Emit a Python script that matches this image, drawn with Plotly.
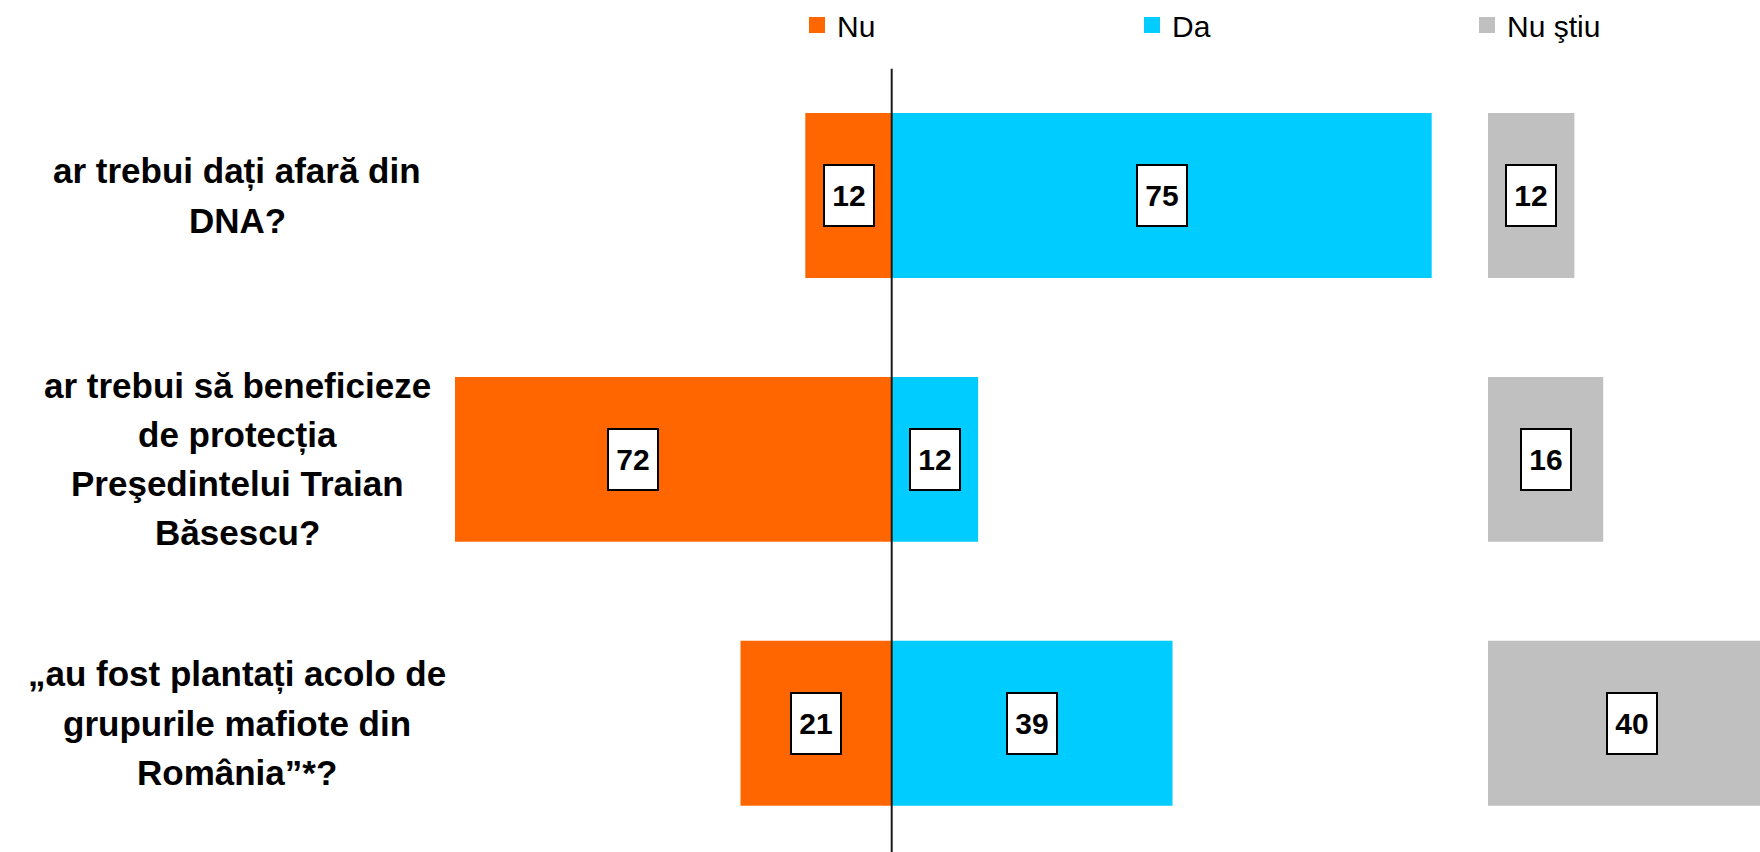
import plotly.graph_objects as go

# ---- data ----
categories = [
    "ar trebui dați afară din<br>DNA?",
    "ar trebui să beneficieze<br>de protecția<br>Preşedintelui Traian<br>Băsescu?",
    "„au fost plantați acolo de<br>grupurile mafiote din<br>România”*?",
]
nu = [12, 72, 21]
da = [75, 12, 39]
nu_stiu = [12, 16, 40]
series_names = ["Nu", "Da", "Nu ştiu"]
colors = ["#FF6600", "#00CCFF", "#C0C0C0"]

# ---- layout constants (pixels) ----
W, H = 1760, 852
PX_PER_UNIT = 7.2
ZERO_PX = 891.7
LEFT_PX = 455
SPLIT_PX = 1488
ROW_PX = 263.9
FIRST_ROW_CENTER_PX = 195.5
LABEL_CENTER_PX = 237
LINE_SPACING = 49
LEGEND_LEFT_PX = 797
LEGEND_UP_PX = 1
FONT = "Liberation Sans, Arial, sans-serif"

x1_range = [-(ZERO_PX - LEFT_PX) / PX_PER_UNIT, (SPLIT_PX - ZERO_PX) / PX_PER_UNIT]
x2_range = [0, (W - SPLIT_PX) / PX_PER_UNIT]
y_top = -FIRST_ROW_CENTER_PX / ROW_PX
y_bottom = y_top + H / ROW_PX

fig = go.Figure()
fig.add_trace(go.Bar(y=categories, x=[-v for v in nu], name=series_names[0], orientation="h",
                     marker=dict(color=colors[0], line=dict(width=0)), width=0.625,
                     xaxis="x", yaxis="y", hoverinfo="skip", showlegend=False))
fig.add_trace(go.Bar(y=categories, x=da, name=series_names[1], orientation="h",
                     marker=dict(color=colors[1], line=dict(width=0)), width=0.625,
                     xaxis="x", yaxis="y", hoverinfo="skip", showlegend=False))
fig.add_trace(go.Bar(y=categories, x=nu_stiu, name=series_names[2], orientation="h",
                     marker=dict(color=colors[2], line=dict(width=0)), width=0.625,
                     xaxis="x2", yaxis="y", hoverinfo="skip", showlegend=False))
# legend entries (square swatches)
for name, col in zip(series_names, colors):
    fig.add_trace(go.Scatter(x=[None], y=[None], mode="markers", name=name,
                             marker=dict(symbol="square", size=20, color=col),
                             xaxis="x", yaxis="y", hoverinfo="skip"))

annotations = []


def value_label(xref, xval, yval, text):
    return dict(xref=xref, yref="y", x=xval, y=yval, text=str(text), showarrow=False,
                font=dict(family=FONT, size=30, color="black", weight="bold"),
                bgcolor="white", bordercolor="black", borderwidth=2, borderpad=0,
                width=48, height=59, xanchor="center", yanchor="middle", align="center")


for c, v in zip(categories, nu):
    annotations.append(value_label("x", -v / 2, c, v))
for c, v in zip(categories, da):
    annotations.append(value_label("x", v / 2, c, v))
for c, v in zip(categories, nu_stiu):
    annotations.append(value_label("x2", v / 2, c, v))

# category labels (centered, one annotation per line for line spacing)
for c in categories:
    lines = c.split("<br>")
    n = len(lines)
    for i, line in enumerate(lines):
        annotations.append(dict(xref="paper", yref="y", x=LABEL_CENTER_PX / W, y=c,
                                text=line, showarrow=False, xanchor="center", yanchor="middle",
                                yshift=((n - 1) / 2 - i) * LINE_SPACING,
                                font=dict(family=FONT, size=35, color="black", weight="bold")))

fig.update_layout(
    width=W, height=H,
    margin=dict(l=0, r=0, t=0, b=0, autoexpand=False),
    paper_bgcolor="white", plot_bgcolor="white",
    barmode="relative",
    showlegend=True,
    legend=dict(orientation="h", x=LEGEND_LEFT_PX / W, y=1 + LEGEND_UP_PX / H,
                xanchor="left", yanchor="top",
                font=dict(family=FONT, size=30, color="black"),
                entrywidth=290, entrywidthmode="pixels",
                bgcolor="rgba(0,0,0,0)", traceorder="normal"),
    xaxis=dict(domain=[LEFT_PX / W, SPLIT_PX / W], range=x1_range, visible=False,
               showgrid=False, zeroline=False, fixedrange=True),
    xaxis2=dict(domain=[SPLIT_PX / W, 1], range=x2_range, visible=False, anchor="y",
                showgrid=False, zeroline=False, fixedrange=True),
    yaxis=dict(type="category", categoryarray=categories, categoryorder="array",
               range=[y_bottom, y_top], visible=False, showgrid=False, zeroline=False,
               fixedrange=True),
    shapes=[dict(type="line", xref="x", yref="y", x0=0, x1=0, y0=-0.48, y1=2.5,
                 line=dict(color="#1a1a1a", width=2), layer="above")],
    annotations=annotations,
    hovermode=False,
)

fig.write_html("out.html", config={"displayModeBar": False},
               post_script="document.body.style.margin='0';document.body.style.overflow='hidden';")
